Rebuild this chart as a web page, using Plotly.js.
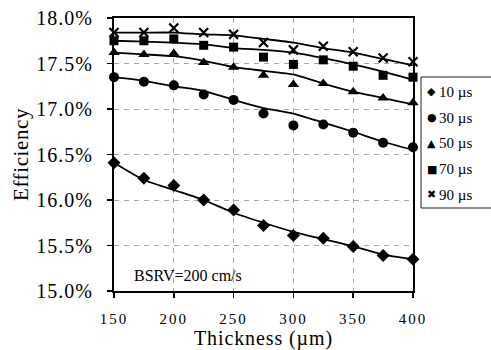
<!DOCTYPE html>
<html>
<head>
<meta charset="utf-8">
<script src="https://cdn.plot.ly/plotly-3.0.1.min.js"></script>
<style>
  html, body { margin: 0; padding: 0; background: #fff; }
  #chart { width: 491px; height: 350px; }
  .xtick text { letter-spacing: 2px; }
  .ytick text { letter-spacing: 1px; }
  .g-xtitle text { letter-spacing: 0.9px; }
  .g-ytitle text { letter-spacing: 0.6px; }
</style>
</head>
<body>
<div id="chart"></div>
<script>
// Thickness (µm)
var thickness = [150, 175, 200, 225, 250, 275, 300, 325, 350, 375, 400];

// Simulated efficiency points (%) for each bulk lifetime
var eff10 = [16.41, 16.24, 16.16, 16.00, 15.89, 15.72, 15.61, 15.58, 15.49, 15.39, 15.35];
var eff30 = [17.35, 17.30, 17.26, 17.16, 17.10, 16.95, 16.82, 16.83, 16.74, 16.63, 16.58];
var eff50 = [17.62, 17.60, 17.61, 17.51, 17.46, 17.37, 17.27, 17.28, 17.19, 17.12, 17.07];
var eff70 = [17.75, 17.75, 17.77, 17.70, 17.68, 17.57, 17.49, 17.54, 17.47, 17.37, 17.35];
var eff90 = [17.84, 17.84, 17.89, 17.84, 17.82, 17.73, 17.65, 17.69, 17.63, 17.56, 17.52];

// Trend (fit) curves (%)
var fit10 = [16.41, 16.22, 16.11, 16.00, 15.86, 15.75, 15.65, 15.57, 15.49, 15.40, 15.35];
var fit30 = [17.35, 17.31, 17.25, 17.20, 17.10, 17.01, 16.95, 16.85, 16.75, 16.64, 16.55];
var fit50 = [17.62, 17.60, 17.58, 17.53, 17.46, 17.42, 17.38, 17.28, 17.19, 17.12, 17.05];
var fit70 = [17.75, 17.74, 17.73, 17.71, 17.67, 17.65, 17.62, 17.56, 17.49, 17.41, 17.32];
var fit90 = [17.84, 17.84, 17.84, 17.82, 17.81, 17.77, 17.73, 17.67, 17.62, 17.55, 17.48];

var seriesNames = ["10 µs", "30 µs", "50 µs", "70 µs", "90 µs"];
var legendGlyphs = ["◆", "●", "▲", "■", "✖"];
var yTickVals = [15.0, 15.5, 16.0, 16.5, 17.0, 17.5, 18.0];
var yTickText = ["15.0%", "15.5%", "16.0%", "16.5%", "17.0%", "17.5%", "18.0%"];
var xTickVals = [150, 200, 250, 300, 350, 400];
var xTickText = ["150", "200", "250", "300", "350", "400"];
var noteText = "BSRV=200 cm/s";

var SERIF = "'Liberation Serif', serif";

var points = [eff10, eff30, eff50, eff70, eff90];
var fits = [fit10, fit30, fit50, fit70, fit90];
var symbols = ["diamond", "circle", "triangle-up", "square", "x-thin-open"];
var sizes = [10, 10, 10, 9, 9];

var traces = [];
for (var i = 0; i < fits.length; i++) {
  traces.push({
    x: thickness, y: fits[i], type: "scatter", mode: "lines",
    line: {color: "#000", width: 1.8, shape: "spline", smoothing: 0.5},
    showlegend: false, hoverinfo: "skip"
  });
}
for (var j = 0; j < points.length; j++) {
  traces.push({
    x: thickness, y: points[j], type: "scatter", mode: "markers",
    name: seriesNames[j],
    marker: {symbol: symbols[j], size: sizes[j], color: "#000",
             line: {color: "#000", width: j === 4 ? 2.2 : 0}},
    showlegend: false, cliponaxis: false
  });
}

var L = 114, R = 413, T = 18, B = 291;
function px2paperX(p) { return (p - L) / (R - L); }
function px2paperY(p) { return (B - p) / (B - T); }

var annotations = [];
var legTop = 91.7, legStep = 25.8;
for (var k = 0; k < seriesNames.length; k++) {
  var yp = px2paperY(legTop + k * legStep);
  annotations.push({
    xref: "paper", yref: "paper", x: px2paperX(431.5), y: yp,
    xanchor: "center", yanchor: "middle", showarrow: false,
    text: legendGlyphs[k],
    font: {family: "'DejaVu Sans', sans-serif", size: 11, color: "#000"}
  });
  annotations.push({
    xref: "paper", yref: "paper", x: px2paperX(437), y: yp,
    xanchor: "left", yanchor: "middle", showarrow: false,
    text: seriesNames[k],
    font: {family: SERIF, size: 15, color: "#000"}
  });
}
annotations.push({
  xref: "paper", yref: "paper", x: px2paperX(132), y: px2paperY(275.7),
  xanchor: "left", yanchor: "middle", showarrow: false,
  text: noteText,
  font: {family: SERIF, size: 16, color: "#000"}
});

var layout = {
  width: 491, height: 350,
  margin: {l: L, r: 491 - R, t: T, b: 350 - B, pad: 0},
  paper_bgcolor: "#fff", plot_bgcolor: "#fff",
  font: {family: SERIF, color: "#000"},
  showlegend: false,
  xaxis: {
    range: [150, 400], tickmode: "array", tickvals: xTickVals, ticktext: xTickText,
    showgrid: true, gridcolor: "#a6a6a6", griddash: "5px,5px", gridwidth: 1,
    showline: true, linecolor: "#000", linewidth: 2, mirror: true,
    ticks: "outside", ticklen: 5, tickwidth: 1.5, tickcolor: "#000",
    tickfont: {family: SERIF, size: 15, color: "#000"},
    ticklabelstandoff: 8,
    zeroline: false, fixedrange: true,
    title: {text: "Thickness (µm)", font: {family: SERIF, size: 20, color: "#000"}, standoff: 14}
  },
  yaxis: {
    range: [15, 18], tickmode: "array", tickvals: yTickVals, ticktext: yTickText,
    showgrid: true, gridcolor: "#a6a6a6", griddash: "5px,5px", gridwidth: 1,
    showline: true, linecolor: "#000", linewidth: 2, mirror: true,
    ticks: "outside", ticklen: 5, tickwidth: 1.5, tickcolor: "#000",
    tickfont: {family: SERIF, size: 20, color: "#000"},
    ticklabelstandoff: 10,
    zeroline: false, fixedrange: true,
    title: {text: "Efficiency", font: {family: SERIF, size: 21, color: "#000"}, standoff: 2}
  },
  shapes: [{
    type: "rect", xref: "paper", yref: "paper", layer: "above",
    x0: px2paperX(421), x1: px2paperX(493), y0: px2paperY(208), y1: px2paperY(77),
    line: {color: "#222", width: 1}, fillcolor: "#fff"
  }],
  annotations: annotations
};

Plotly.newPlot("chart", traces, layout, {displayModeBar: false, staticPlot: true});
</script>
</body>
</html>
